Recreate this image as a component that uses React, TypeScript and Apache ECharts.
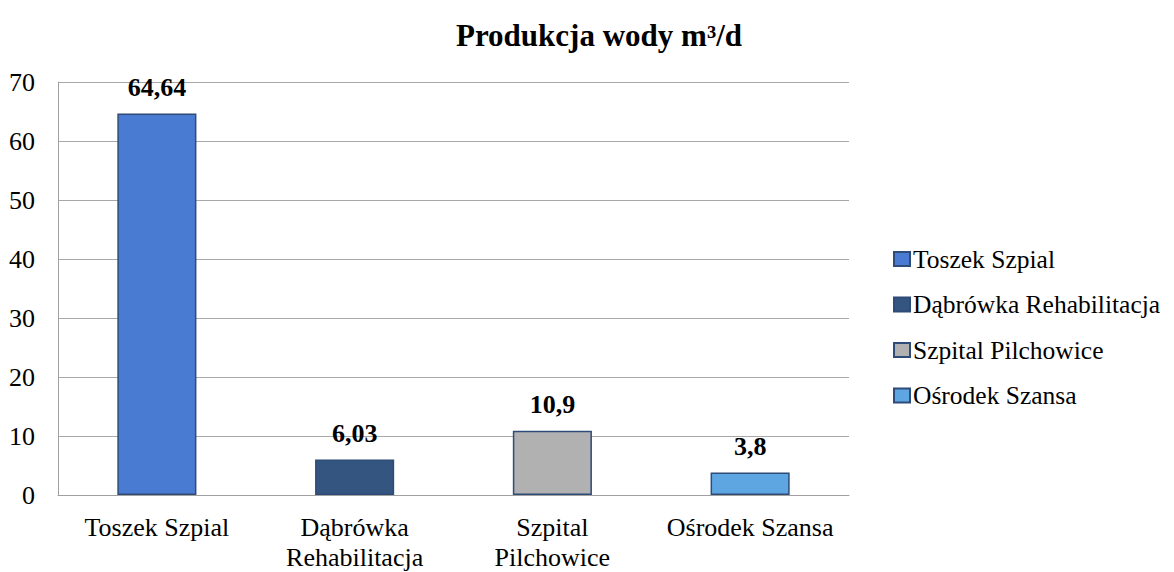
import React, { useEffect, useRef } from "react";
import * as echarts from "echarts";

const categories = ["Toszek Szpial", "Dąbrówka\nRehabilitacja", "Szpital\nPilchowice", "Ośrodek Szansa"];
const seriesNames = ["Toszek Szpial", "Dąbrówka Rehabilitacja", "Szpital Pilchowice", "Ośrodek Szansa"];
const values = [64.64, 6.03, 10.9, 3.8];
const colors = ["#4a7bd2", "#34557f", "#b1b1b1", "#5ea6e2"];
const yTicks = { min: 0, max: 70, interval: 10 };

const FONT = "Liberation Serif";

export default function App() {
  const ref = useRef<HTMLDivElement>(null);
  useEffect(() => {
    document.body.style.margin = "0";
    const chart = echarts.init(ref.current!, undefined, { renderer: "svg" });
    chart.setOption({
      animation: false,
      backgroundColor: "#ffffff",
      textStyle: { fontFamily: FONT },
      title: {
        text: "Produkcja wody m³/d",
        left: 594,
        textAlign: "center",
        top: 15,
        textStyle: { fontFamily: FONT, fontSize: 31, fontWeight: "bold", color: "#000" },
      },
      legend: {
        orient: "vertical",
        left: 888,
        top: 241,
        itemWidth: 16,
        itemHeight: 14,
        itemGap: 19.5,
        data: seriesNames,
        icon: "rect",
        textStyle: { fontFamily: FONT, fontSize: 25.5, color: "#000", padding: [0, 0, 0, -2] },
      },
      grid: { left: 58, right: 325, top: 82, bottom: 76, containLabel: false },
      xAxis: {
        type: "category",
        data: categories,
        axisLine: { lineStyle: { color: "#a0a0a0" } },
        axisTick: { show: false },
        axisLabel: { fontFamily: FONT, fontSize: 26, color: "#000", margin: 17, lineHeight: 30, interval: 0 },
      },
      yAxis: {
        type: "value",
        min: yTicks.min,
        max: yTicks.max,
        interval: yTicks.interval,
        axisLine: { show: true, lineStyle: { color: "#a0a0a0" } },
        axisTick: { show: false },
        splitLine: { lineStyle: { color: "#a8a8a8" } },
        axisLabel: { fontFamily: FONT, fontSize: 26, color: "#000", margin: 23, padding: [0, 0, 6, 0] },
      },
      series: seriesNames.map((name, i) => ({
        name,
        type: "bar",
        barWidth: "40%",
        barGap: "-100%",
        data: values.map((v, j) => (j === i ? v : "-")),
        itemStyle: { color: colors[i], borderColor: "#2f4b77", borderWidth: 1.5 },
        label: {
          show: true,
          position: "top",
          distance: 13,
          fontFamily: FONT,
          fontSize: 26,
          fontWeight: "bold",
          color: "#000",
          formatter: (p: any) => String(p.value).replace(".", ","),
        },
      })),
    });
    return () => chart.dispose();
  }, []);
  return <div ref={ref} style={{ width: 1174, height: 572 }} />;
}
